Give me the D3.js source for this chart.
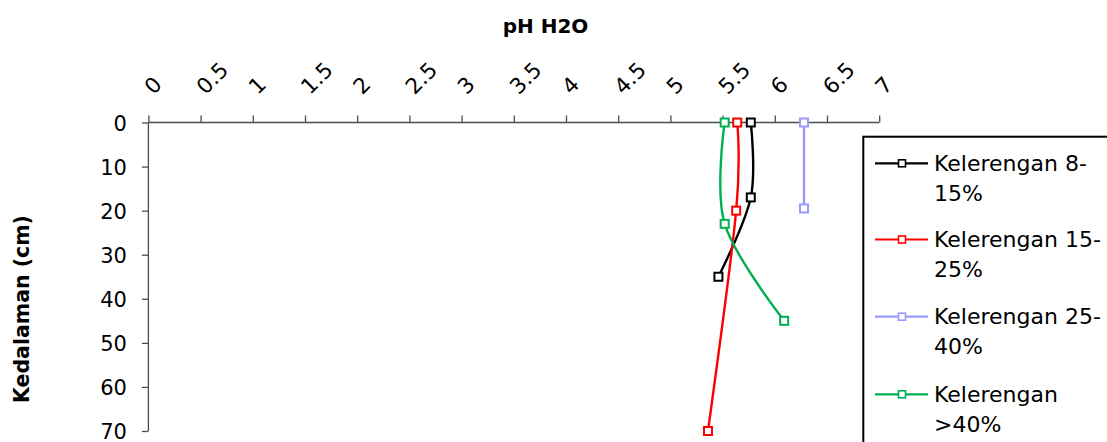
<!DOCTYPE html>
<html lang="en">
<head>
<meta charset="utf-8">
<title>pH H2O</title>
<script src="https://cdn.jsdelivr.net/npm/d3@7"></script>
<style>
  body { margin: 0; background: #fff; }
  svg text { font-family: "DejaVu Sans", sans-serif; fill: #000; }
</style>
</head>
<body>
<svg id="chart" width="1107" height="442"></svg>
<script>
// data: [pH, depth in cm]
var seriesNames = ["Kelerengan 8-15%", "Kelerengan 15-25%", "Kelerengan 25-40%", "Kelerengan >40%"];
var legendLines = [["Kelerengan 8-", "15%"], ["Kelerengan 15-", "25%"], ["Kelerengan 25-", "40%"], ["Kelerengan", ">40%"]];
var seriesColors = ["#000000", "#ff0000", "#9999ff", "#00b050"];
var ph815  = [5.77, 5.77, 5.46];
var dep815 = [0, 17, 35];
var ph1525  = [5.64, 5.63, 5.36];
var dep1525 = [0, 20, 70];
var ph2540  = [6.28, 6.28];
var dep2540 = [0, 19.5];
var ph40  = [5.52, 5.52, 6.09];
var dep40 = [0, 23, 45];
var xTicks = [0, 0.5, 1, 1.5, 2, 2.5, 3, 3.5, 4, 4.5, 5, 5.5, 6, 6.5, 7];
var yTicks = [0, 10, 20, 30, 40, 50, 60, 70];

var series = [[ph815, dep815], [ph1525, dep1525], [ph2540, dep2540], [ph40, dep40]].map(function(s, i) {
  return { name: seriesNames[i], color: seriesColors[i],
           pts: s[0].map(function(v, j) { return { ph: v, depth: s[1][j] }; }) };
});

var svg = d3.select("#chart");

var x = d3.scaleLinear().domain([0, 7]).range([148.4, 879.2]);
var y = d3.scaleLinear().domain([0, 70]).range([122.5, 431]);

var axisColor = "#4d4d4d";

// y axis (depth), ticks to the left
var yAxis = svg.append("g")
    .attr("transform", "translate(" + x(0) + ",0)")
    .call(d3.axisLeft(y).tickValues(yTicks).tickSize(6.5).tickPadding(15).tickFormat(d3.format("d")));
yAxis.selectAll("path, line").attr("stroke", axisColor).attr("stroke-width", 1.3);
yAxis.select(".domain").attr("d", "M0," + y(0) + "V" + y(70));
yAxis.selectAll("text").attr("font-size", 21).attr("font-family", "DejaVu Sans").attr("fill", "#000")
    .attr("dy", "0.36em");

// x axis on top (pH), ticks pointing up, labels slanted
var xAxis = svg.append("g")
    .attr("transform", "translate(0," + y(0) + ")")
    .call(d3.axisTop(x).tickValues(xTicks).tickSize(7).tickFormat(function(d) { return String(d); }));
xAxis.selectAll("path, line").attr("stroke", axisColor).attr("stroke-width", 1.3);
xAxis.select(".domain").attr("d", "M" + x(0) + ",0H" + x(7));
xAxis.selectAll("text")
    .attr("font-size", 21.5).attr("font-family", "DejaVu Sans").attr("fill", "#000")
    .attr("text-anchor", "start")
    .attr("x", 0).attr("y", 0).attr("dy", 0)
    .attr("transform", "translate(4.5,-27) rotate(-45)");

// titles
svg.append("text")
    .attr("x", 545.5).attr("y", 32.5)
    .attr("text-anchor", "middle")
    .attr("font-size", 20).attr("font-weight", "bold")
    .text("pH H2O");

svg.append("text")
    .attr("transform", "translate(29,309) rotate(-90)")
    .attr("text-anchor", "middle")
    .attr("font-size", 20.5).attr("font-weight", "bold")
    .text("Kedalaman (cm)");

// smoothed lines
var line = d3.line()
    .x(function(d) { return x(d.ph); })
    .y(function(d) { return y(d.depth); })
    .curve(d3.curveCardinal.tension(0));

var g = svg.append("g");
series.forEach(function(s) {
  g.append("path")
    .attr("d", line(s.pts))
    .attr("fill", "none")
    .attr("stroke", s.color)
    .attr("stroke-width", 2.4);
});
series.forEach(function(s) {
  g.selectAll(null).data(s.pts).enter().append("rect")
    .attr("x", function(d) { return x(d.ph) - 4; })
    .attr("y", function(d) { return y(d.depth) - 4; })
    .attr("width", 8).attr("height", 8)
    .attr("fill", "#fff")
    .attr("stroke", s.color)
    .attr("stroke-width", 2);
});

// legend (box runs off the right/bottom edge like the reference)
var legend = svg.append("g");
legend.append("rect")
    .attr("x", 863.3).attr("y", 136.7)
    .attr("width", 300).attr("height", 400)
    .attr("fill", "#fff").attr("stroke", "#000").attr("stroke-width", 2);

var legendY = [163.3, 239.5, 316.7, 394.3];
series.forEach(function(s, i) {
  var ly = legendY[i];
  legend.append("line")
    .attr("x1", 875).attr("x2", 928).attr("y1", ly).attr("y2", ly)
    .attr("stroke", s.color).attr("stroke-width", 2.2);
  legend.append("rect")
    .attr("x", 898.5).attr("y", ly - 3.5).attr("width", 7).attr("height", 7)
    .attr("fill", "#fff").attr("stroke", s.color).attr("stroke-width", 1.6);
  var t = legend.append("text")
    .attr("x", 934).attr("y", ly + 7.5)
    .attr("font-size", 22);
  legendLines[i].forEach(function(txt, k) {
    t.append("tspan").attr("x", 934).attr("dy", k === 0 ? 0 : 30).text(txt);
  });
});
</script>
</body>
</html>
